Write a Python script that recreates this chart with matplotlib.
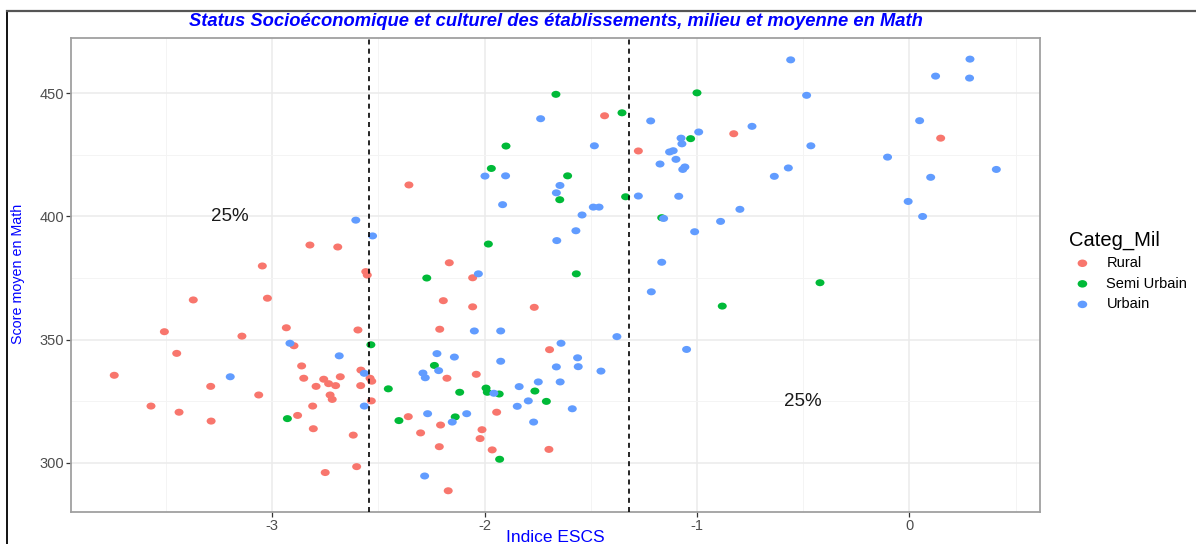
import matplotlib
matplotlib.use("Agg")
import matplotlib.pyplot as plt
import numpy as np
from matplotlib.path import Path
from matplotlib.lines import Line2D

plt.rcParams['font.family'] = ['Liberation Sans', 'DejaVu Sans']

categories = ["Rural", "Semi Urbain", "Urbain"]
colors = ["#F8766D", "#00BA38", "#619CFF"]

rural_escs = [-2.822, -2.691, -3.046, -2.559, -2.552, -3.371, -3.022, -3.507, -3.142, -2.933,
              -2.596, -2.897, -3.449, -3.743, -2.861, -2.851, -2.793, -2.757, -2.734, -2.701,
              -2.679, -2.582, -2.539, -2.531, -2.583, -3.289, -3.063, -2.727, -2.717, -2.809,
              -2.533, -3.570, -3.438, -2.880, -3.287, -2.806, -2.618, -2.602, -2.750,
              -2.356, -2.166, -2.056, -2.194, -2.056, -1.766, -2.211, -1.694, -2.177, -2.039,
              -2.359, -1.943, -2.207, -2.301, -2.012, -2.021, -2.213, -1.964, -1.697, -2.171,
              -1.435, -1.276, -0.827, 0.147]
rural_score = [388.4, 387.6, 379.9, 377.6, 376.2, 366.1, 366.8, 353.2, 351.4, 354.8,
               353.9, 347.5, 344.4, 335.5, 339.3, 334.3, 331.0, 333.9, 332.1, 331.3,
               334.9, 337.6, 334.3, 333.1, 331.3, 331.0, 327.5, 327.5, 325.7, 323.0,
               325.1, 323.0, 320.5, 319.2, 316.9, 313.8, 311.2, 298.4, 296.0,
               412.8, 381.2, 375.1, 365.8, 363.3, 363.1, 354.2, 345.9, 334.3, 335.9,
               318.7, 320.5, 315.3, 312.1, 313.4, 309.8, 306.5, 305.2, 305.4, 288.6,
               440.9, 426.6, 433.6, 431.8]

semi_escs = [-2.535, -2.453, -2.928,
             -1.968, -1.609, -1.646, -1.336, -1.982, -2.272, -1.568, -2.236, -2.117, -1.993,
             -1.987, -1.931, -1.763, -1.709, -2.403, -2.138, -1.929,
             -1.664, -1.000, -1.353, -1.030, -1.899, -1.166, -0.881, -0.421]
semi_score = [347.9, 330.0, 317.9,
              419.5, 416.5, 406.8, 408.0, 388.8, 375.0, 376.7, 339.5, 328.6, 330.3,
              328.6, 327.9, 329.1, 324.9, 317.1, 318.6, 301.4,
              449.6, 450.2, 442.1, 431.6, 428.6, 399.5, 363.6, 373.1]

urb_escs = [-2.606, -2.527, -2.916, -2.684, -3.197, -2.566, -2.566,
            -1.998, -1.901, -1.645, -1.662, -1.915, -1.276, -1.488, -1.461, -1.541, -1.570,
            -1.660, -2.029, -2.048, -1.924, -1.377, -1.640, -2.224, -2.142, -1.924, -1.562,
            -1.662, -1.559, -1.452, -2.290, -2.279, -2.216, -1.747, -1.644, -1.837, -1.956,
            -1.794, -1.846, -1.587, -2.268, -2.152, -2.084, -1.769, -2.282,
            -1.736, -1.218, -0.992, -1.075, -1.071, -1.129, -1.112, -1.099, -1.174, -1.067,
            -1.057, -0.741, -0.636, -1.483, -1.086, -1.157, -0.798, -0.889, -1.011, -1.166,
            -1.215,
            -0.559, 0.285, 0.123, 0.283, -0.484, 0.048, -0.464, -0.103, 0.409, -0.570,
            0.100, -0.006, 0.062, -1.049]
urb_score = [398.5, 392.1, 348.5, 343.4, 334.9, 336.3, 323.0,
             416.4, 416.5, 412.6, 409.6, 404.8, 408.3, 403.8, 403.8, 400.6, 394.2,
             390.2, 376.7, 353.5, 353.5, 351.2, 348.5, 344.3, 342.9, 341.2, 342.6,
             338.9, 339.0, 337.2, 336.4, 334.5, 337.4, 332.8, 332.8, 330.9, 328.2,
             325.1, 322.9, 321.9, 319.9, 316.5, 319.9, 316.5, 294.6,
             439.7, 438.8, 434.3, 431.8, 429.5, 426.2, 426.7, 423.2, 421.3, 419.1,
             420.1, 436.6, 416.3, 428.7, 408.2, 399.2, 402.9, 398.0, 393.8, 381.4,
             369.4,
             463.6, 463.9, 457.0, 456.2, 449.2, 438.9, 428.7, 424.1, 419.1, 419.7,
             415.9, 406.1, 400.0, 346.0]

quartiles = [-2.542, -1.320]
annotations = [(-3.2, 400, "25%"), (-0.5, 325, "25%")]

x_ticks = [-3, -2, -1, 0]
y_ticks = [300, 350, 400, 450]

W, H = 1196, 544
fig = plt.figure(figsize=(W / 100, H / 100), dpi=100)
left, right, top, bottom = 70.7, 1040.3, 37.7, 511.7
ax = fig.add_axes([left / W, 1 - bottom / H, (right - left) / W, (bottom - top) / H])

# ellipse marker
circ = Path.unit_circle()
ell = Path(circ.vertices * np.array([1.0, 0.78]), circ.codes)

series = [(rural_escs, rural_score), (semi_escs, semi_score), (urb_escs, urb_score)]
for (xs, ys), cat, col in zip(series, categories, colors):
    ax.scatter(xs, ys, s=42, marker=ell, color=col, edgecolors='none', label=cat, zorder=3)

for q in quartiles:
    ax.axvline(q, color='black', linestyle=(0, (3, 2.5)), linewidth=1.2, zorder=4)

for x, y, t in annotations:
    ax.text(x, y, t, ha='center', va='center', fontsize=13.5, color='#1a1a1a', zorder=5)

ax.set_xlim(-3.948, 0.616)
ax.set_ylim(280.1, 472.6)
ax.set_xticks(x_ticks)
ax.set_xticklabels([str(v) for v in x_ticks])
ax.set_yticks(y_ticks)
ax.set_xticks([-3.5, -2.5, -1.5, -0.5, 0.5], minor=True)
ax.set_yticks([325, 375, 425], minor=True)
ax.grid(which='major', color='#EBEBEB', linewidth=1.1, zorder=0)
ax.grid(which='minor', color='#F4F4F4', linewidth=0.7, zorder=0)
ax.set_axisbelow(True)
ax.tick_params(which='major', length=3.5, width=0.9, color='#333333', labelsize=10.5,
               labelcolor='#4D4D4D', pad=1.5)
ax.tick_params(which='minor', length=0)
for sp in ax.spines.values():
    sp.set_color('#A0A0A0')
    sp.set_linewidth(1.3)

fig.text((left + right) / 2 / W, 1 - 537 / H, "Indice ESCS", color='blue', fontsize=12.5,
         ha='center', va='center')
fig.text(18 / W, 1 - 274 / H, "Score moyen en Math", color='blue', fontsize=10.3,
         ha='center', va='center', rotation=90)

fig.text((left + right) / 2 / W, 1 - 21 / H,
         "Status Socioéconomique et culturel des établissements, milieu et moyenne en Math",
         ha='center', va='center', color='blue', fontsize=13.2, fontweight='bold', style='italic')

leg = ax.legend(title="Categ_Mil", loc='upper left', bbox_to_anchor=(1062 / W, 1 - 223 / H),
                bbox_transform=fig.transFigure, frameon=False, fontsize=10.5,
                title_fontsize=14.5, handletextpad=0.75, labelspacing=0.45,
                markerscale=1.0, alignment='left', borderpad=0, handlelength=1.8)
for h in leg.legend_handles:
    h.set_sizes([48])

# outer frame
fig.add_artist(Line2D([7.3 / W, 7.3 / W], [0, 1 - 10.7 / H], color='black', linewidth=1.3,
                      transform=fig.transFigure))
fig.add_artist(Line2D([7.3 / W, 1], [1 - 10.7 / H, 1 - 10.7 / H], color='#555555',
                      linewidth=1.6, transform=fig.transFigure))

fig.savefig("out.png", dpi=100)
